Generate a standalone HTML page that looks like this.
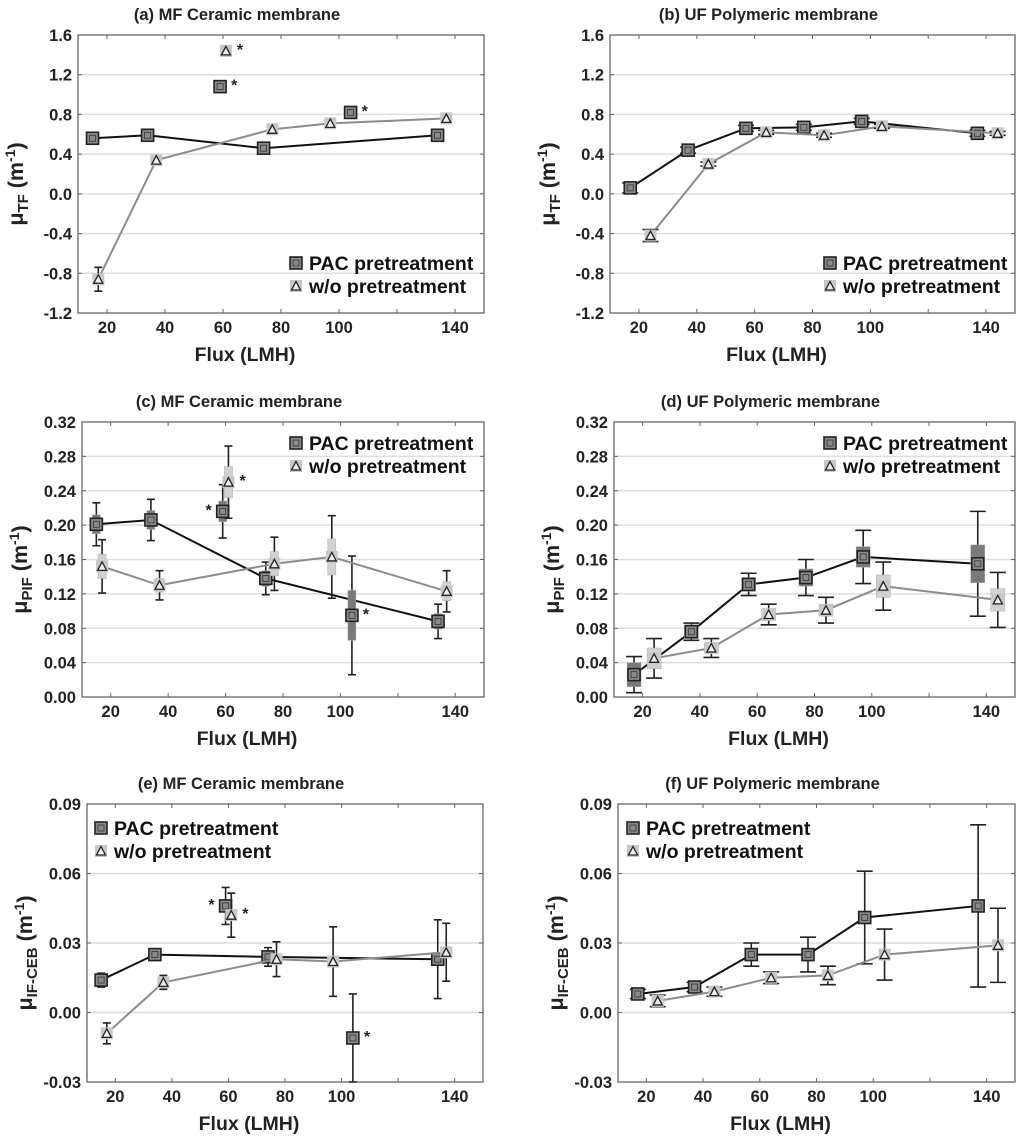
<!DOCTYPE html>
<html><head><meta charset="utf-8"><style>
body{margin:0;background:#fff}
svg{display:block;font-family:"Liberation Sans",sans-serif}
</style></head><body>
<svg id="fig" width="1024" height="1137" viewBox="0 0 1024 1137"></svg>
<script>
// ---- data (flux LMH, mean, whisker half-range, box half-range, star flag: 0 none, 1 right, -1 left) ----
const xTicks=[20,40,60,80,100,120,140];
const xTickLabels=["20","40","60","80","100","","140"];
const yTicksTF=[-1.2,-0.8,-0.4,0.0,0.4,0.8,1.2,1.6];
const yTicksPIF=[0,0.04,0.08,0.12,0.16,0.20,0.24,0.28,0.32];
const yTicksCEB=[-0.03,0,0.03,0.06,0.09];

const aPacX=[15,34,74,134,59,104];
const aPacY=[0.56,0.59,0.46,0.59,1.08,0.82];
const aPacE=[0.05,0.03,0.03,0.02,0.02,0.02];
const aPacS=[0,0,0,0,1,1];
const aWoX=[17,37,77,97,137,61];
const aWoY=[-0.86,0.34,0.65,0.71,0.76,1.44];
const aWoE=[0.12,0.02,0.02,0.02,0.02,0.02];
const aWoS=[0,0,0,0,0,1];

const bPacX=[17,37,57,77,97,137];
const bPacY=[0.06,0.44,0.66,0.67,0.73,0.61];
const bPacE=[0.05,0.03,0.03,0.03,0.03,0.03];
const bWoX=[24,44,64,84,104,144];
const bWoY=[-0.42,0.30,0.62,0.59,0.68,0.61];
const bWoE=[0.06,0.02,0.02,0.02,0.02,0.02];

const cPacX=[15,34,74,134,59,104];
const cPacY=[0.201,0.206,0.138,0.088,0.216,0.095];
const cPacE=[0.025,0.024,0.019,0.020,0.031,0.069];
const cPacB=[0.011,0.011,0.009,0.009,0.012,0.029];
const cPacS=[0,0,0,0,-1,1];
const cWoX=[17,37,77,97,137,61];
const cWoY=[0.152,0.130,0.155,0.163,0.123,0.250];
const cWoE=[0.031,0.017,0.031,0.048,0.024,0.042];
const cWoB=[0.014,0.008,0.014,0.021,0.011,0.018];
const cWoS=[0,0,0,0,0,1];

const dPacX=[17,37,57,77,97,137];
const dPacY=[0.026,0.076,0.131,0.139,0.163,0.155];
const dPacE=[0.021,0.010,0.013,0.021,0.031,0.061];
const dPacB=[0.014,0.008,0.008,0.010,0.012,0.022];
const dWoX=[24,44,64,84,104,144];
const dWoY=[0.045,0.057,0.096,0.101,0.129,0.113];
const dWoE=[0.023,0.011,0.012,0.015,0.028,0.032];
const dWoB=[0.012,0.006,0.007,0.007,0.013,0.013];

const ePacX=[15,34,74,134,59,104];
const ePacY=[0.014,0.025,0.024,0.023,0.046,-0.011];
const ePacE=[0.003,0.001,0.004,0.017,0.008,0.019];
const ePacS=[0,0,0,0,-1,1];
const eWoX=[17,37,77,97,137,61];
const eWoY=[-0.009,0.013,0.023,0.022,0.026,0.042];
const eWoE=[0.0045,0.003,0.0075,0.015,0.0125,0.0095];
const eWoS=[0,0,0,0,0,1];

const fPacX=[17,37,57,77,97,137];
const fPacY=[0.008,0.011,0.025,0.025,0.041,0.046];
const fPacE=[0.002,0.002,0.005,0.0075,0.020,0.035];
const fWoX=[24,44,64,84,104,144];
const fWoY=[0.005,0.009,0.015,0.016,0.025,0.029];
const fWoE=[0.0025,0.002,0.0025,0.004,0.011,0.016];

const NS="http://www.w3.org/2000/svg";
const svg=document.getElementById('fig');
function mk(tag,attrs,parent,text){const e=document.createElementNS(NS,tag);for(const k in attrs)e.setAttribute(k,attrs[k]);if(text!==undefined)e.textContent=text;(parent||svg).appendChild(e);return e;}

function panel(p){
  const g=mk('g',{});
  
  
  const sx=v=>p.L+(v-10)/(150-10)*(p.R-p.L);
  const sy=v=>p.B-(v-p.ymin)/(p.ymax-p.ymin)*(p.B-p.T);
  const t=mk('text',{x:(p.L+p.R)/2-44,y:p.T-15,'text-anchor':'middle','font-size':'16.5','font-weight':'bold',fill:'#222'},g,p.title);
  
  
  p.yt.forEach(v=>{
    const y=sy(v);
    if(Math.abs(y-p.T)>1&&Math.abs(y-p.B)>1){const gl=mk('line',{x1:p.L,x2:p.R,y1:y,y2:y,stroke:'#dedede','stroke-width':1.5},g);
      }
    mk('line',{x1:p.L,x2:p.L+4,y1:y,y2:y,stroke:'#666'},g);
    mk('line',{x1:p.R,x2:p.R-4,y1:y,y2:y,stroke:'#666'},g);
    const tl=mk('text',{x:p.L-6,y:y+6,'text-anchor':'end','font-size':'16.5','font-weight':'bold',fill:'#222'},g,v.toFixed(p.dec));
    
  });
  xTicks.forEach((v,i)=>{
    const x=sx(v);
    mk('line',{x1:x,x2:x,y1:p.B,y2:p.B-4,stroke:'#666'},g);
    mk('line',{x1:x,x2:x,y1:p.T,y2:p.T+4,stroke:'#666'},g);
    if(xTickLabels[i]){const tl=mk('text',{x:x,y:p.B+20,'text-anchor':'middle','font-size':'16.5','font-weight':'bold',fill:'#222'},g,xTickLabels[i]);
      }
  });
  const fr=mk('rect',{x:p.L,y:p.T,width:p.R-p.L,height:p.B-p.T,fill:'none',stroke:'#666','stroke-width':1.3},g);
  
  const xt=mk('text',{x:(p.L+p.R)/2-36,y:p.B+48,'text-anchor':'middle','font-size':'19.5','font-weight':'bold',fill:'#222'},g,'Flux (LMH)');
  
  const cy=(p.T+p.B)/2+10, cx=p.L-55;
  const yt=mk('text',{x:cx,y:cy,transform:`rotate(-90 ${cx} ${cy})`,'text-anchor':'middle','font-size':'21.5','font-weight':'bold',fill:'#222'},g);
  
  mk('tspan',{},yt,'μ');
  mk('tspan',{'font-size':'15','dy':'5'},yt,p.sub);
  mk('tspan',{'dy':'-5'},yt,' (m');
  mk('tspan',{'font-size':'14','dy':'-8'},yt,'-1');
  mk('tspan',{'dy':'8'},yt,')');
  p.series.forEach(s=>{
    const sg=mk('g',{},g);
    
    
    const pts=[];
    s.X.forEach((xv,i)=>{if(!s.S||s.S[i]===0)pts.push(sx(xv)+','+sy(s.Y[i]));});
    const ln=mk('polyline',{points:pts.join(' '),fill:'none',stroke:s.line,'stroke-width':2},sg);
    
    s.X.forEach((xv,i)=>{
      const x=sx(xv),y=sy(s.Y[i]);
      const e=s.E[i];
      const y1=Math.min(sy(s.Y[i]+e),p.B),y2=Math.min(sy(s.Y[i]-e),p.B);
      const cw=p.cap;
      mk('path',{d:`M${x},${y1}V${y2}M${x-cw},${y1}H${x+cw}M${x-cw},${y2}H${x+cw}`,stroke:'#222','stroke-width':1.6,fill:'none'},sg);
      if(s.B){const b=s.B[i];const r=mk('rect',{x:x-p.bw,y:sy(s.Y[i]+b),width:2*p.bw,height:sy(s.Y[i]-b)-sy(s.Y[i]+b),fill:s.box,stroke:'#aaa','stroke-width':0.5},sg);
        }
      marker(sg,s.kind,x,y);
      if(s.S&&s.S[i]!==0){
        const st=mk('text',{x:x+(s.S[i]>0?11:-11),y:y+4,'text-anchor':s.S[i]>0?'start':'end','font-size':'16','font-weight':'bold',fill:'#222'},sg,'*');
        
      }
    });
  });
  const lg=mk('g',{},g);
  
  
  [['PAC pretreatment','sq'],['w/o pretreatment','tri']].forEach((it,i)=>{
    const y=p.legY+i*23;
    const le=mk('g',{},lg);
    
    marker(le,it[1],p.legX,y);
    mk('text',{x:p.legX+13,y:y+7,'font-size':'19.5','font-weight':'bold',fill:'#111'},le,it[0]);
  });
}
function marker(parent,kind,x,y){
  const g=mk('g',{},parent);
  
  
  if(kind==='sq'){
    mk('rect',{x:x-6,y:y-6,width:12,height:12,fill:'#8a8a8a',stroke:'#222','stroke-width':1.6},g);
    mk('rect',{x:x-3,y:y-3,width:6,height:6,fill:'none',stroke:'#333','stroke-width':0.8},g);
  }else{
    mk('rect',{x:x-6,y:y-6,width:12,height:12,fill:'#c8c8c8',stroke:'none'},g);
    mk('path',{d:`M${x},${y-4.5}L${x+4.5},${y+4}L${x-4.5},${y+4}Z`,fill:'#eee',stroke:'#222','stroke-width':1.3},g);
  }
  return g;
}
const pac=(n,X,Y,E,S,B)=>({name:n,kind:'sq',X,Y,E,S,B,line:'#111',box:'#7a7a7a'});
const wo=(n,X,Y,E,S,B)=>({name:n,kind:'tri',X,Y,E,S,B,line:'#8c8c8c',box:'#d2d2d2'});
panel({name:'panel-a',title:'(a) MF Ceramic membrane',sub:'TF',L:78,R:484,T:35,B:313,ymin:-1.2,ymax:1.6,yt:yTicksTF,dec:1,cap:4,bw:5,legX:296,legY:263,
  series:[pac('pac-series-a',aPacX,aPacY,aPacE,aPacS),wo('wo-series-a',aWoX,aWoY,aWoE,aWoS)]});
panel({name:'panel-b',title:'(b) UF Polymeric membrane',sub:'TF',L:610,R:1015,T:35,B:313,ymin:-1.2,ymax:1.6,yt:yTicksTF,dec:1,cap:8,bw:5,legX:830,legY:263,
  series:[pac('pac-series-b',bPacX,bPacY,bPacE),wo('wo-series-b',bWoX,bWoY,bWoE)]});
panel({name:'panel-c',title:'(c) MF Ceramic membrane',sub:'PIF',L:82,R:484,T:422,B:697,ymin:0,ymax:0.32,yt:yTicksPIF,dec:2,cap:4,bw:4,legX:296,legY:443,
  series:[pac('pac-series-c',cPacX,cPacY,cPacE,cPacS,cPacB),wo('wo-series-c',cWoX,cWoY,cWoE,cWoS,cWoB)]});
panel({name:'panel-d',title:'(d) UF Polymeric membrane',sub:'PIF',L:614,R:1015,T:422,B:697,ymin:0,ymax:0.32,yt:yTicksPIF,dec:2,cap:8,bw:7,legX:830,legY:443,
  series:[pac('pac-series-d',dPacX,dPacY,dPacE,null,dPacB),wo('wo-series-d',dWoX,dWoY,dWoE,null,dWoB)]});
panel({name:'panel-e',title:'(e) MF Ceramic membrane',sub:'IF-CEB',L:87,R:483,T:804,B:1082,ymin:-0.03,ymax:0.09,yt:yTicksCEB,dec:2,cap:4,bw:5,legX:101,legY:828,
  series:[pac('pac-series-e',ePacX,ePacY,ePacE,ePacS),wo('wo-series-e',eWoX,eWoY,eWoE,eWoS)]});
panel({name:'panel-f',title:'(f) UF Polymeric membrane',sub:'IF-CEB',L:618,R:1015,T:804,B:1082,ymin:-0.03,ymax:0.09,yt:yTicksCEB,dec:2,cap:8,bw:5,legX:633,legY:828,
  series:[pac('pac-series-f',fPacX,fPacY,fPacE),wo('wo-series-f',fWoX,fWoY,fWoE)]});
</script>
</body></html>
